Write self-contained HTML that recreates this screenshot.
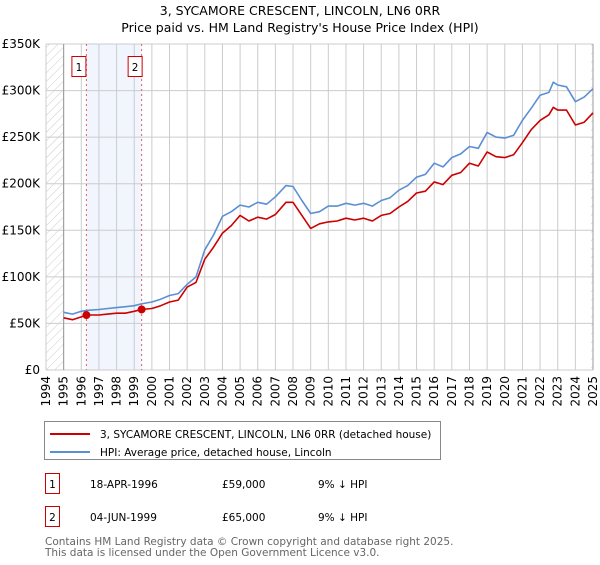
<!DOCTYPE html>
<html><head><meta charset="utf-8">
<style>
body{margin:0;background:#fff;font-family:"Liberation Sans","DejaVu Sans",sans-serif;}
svg text{font-family:"DejaVu Sans","Liberation Sans",sans-serif;}
</style></head>
<body>
<svg id="chart" width="600" height="560" viewBox="0 0 600 560">
<defs>
<pattern id="hatch" width="6" height="6" patternUnits="userSpaceOnUse" patternTransform="rotate(45)">
<line x1="0" y1="0" x2="0" y2="6" stroke="#ccc" stroke-width="1"/>
</pattern>
</defs>
<text x="300" y="15" text-anchor="middle" font-size="12.5" fill="#000">3, SYCAMORE CRESCENT, LINCOLN, LN6 0RR</text>
<text x="300" y="32" text-anchor="middle" font-size="12.5" fill="#000">Price paid vs. HM Land Registry's House Price Index (HPI)</text>
<g id="plot"></g>
<g>
<rect x="44.5" y="421.5" width="396" height="38" fill="#fff" stroke="#888"/>
<line x1="50" y1="434" x2="90" y2="434" stroke="#cc0000" stroke-width="2"/>
<text x="100" y="438" font-size="10.5">3, SYCAMORE CRESCENT, LINCOLN, LN6 0RR (detached house)</text>
<line x1="50" y1="452" x2="90" y2="452" stroke="#5b8fd4" stroke-width="2"/>
<text x="100" y="456" font-size="10.5">HPI: Average price, detached house, Lincoln</text>
</g>
<g font-size="10.5">
<rect x="45.5" y="473.5" width="14" height="20" fill="#fff" stroke="#cc0000"/>
<text x="52.5" y="488" text-anchor="middle">1</text>
<text x="90" y="488">18-APR-1996</text>
<text x="222" y="488">£59,000</text>
<text x="318" y="488">9% ↓ HPI</text>
<rect x="45.5" y="506.5" width="14" height="20" fill="#fff" stroke="#cc0000"/>
<text x="52.5" y="521" text-anchor="middle">2</text>
<text x="90" y="521">04-JUN-1999</text>
<text x="222" y="521">£65,000</text>
<text x="318" y="521">9% ↓ HPI</text>
</g>
<text x="45" y="545" font-size="10.5" fill="#666">Contains HM Land Registry data © Crown copyright and database right 2025.</text>
<text x="45" y="556" font-size="10.5" fill="#666">This data is licensed under the Open Government Licence v3.0.</text>
</svg>
<script>
const hpiYears = [1995,1995.5,1996,1996.3,1997,1997.5,1998,1998.5,1999,1999.4,2000,2000.5,2001,2001.5,2002,2002.5,2003,2003.5,2004,2004.5,2005,2005.5,2006,2006.5,2007,2007.6,2008,2008.5,2009,2009.5,2010,2010.5,2011,2011.5,2012,2012.5,2013,2013.5,2014,2014.5,2015,2015.5,2016,2016.5,2017,2017.5,2018,2018.5,2019,2019.5,2020,2020.5,2021,2021.5,2022,2022.5,2022.75,2023,2023.5,2024,2024.5,2025];
const hpiValues = [62,60,63,64,65,66,67,68,69,71,73,76,80,82,92,100,129,145,165,170,177,175,180,178,186,198,197,182,168,170,176,176,179,177,179,176,182,185,193,198,207,210,222,218,228,232,240,238,255,250,249,252,268,281,295,298,309,306,304,288,293,302];
const priceValues = [56,54,57,59,59,60,61,61,63,65,66,69,73,75,89,94,119,132,147,155,166,160,164,162,167,180,180,166,152,157,159,160,163,161,163,160,166,168,175,181,190,192,202,199,209,212,222,219,234,229,228,231,244,258,268,274,282,279,279,263,266,276];
const saleYears = [1996.29,1999.42];
const saleValues = [59,65];
const yTicks = [0,50,100,150,200,250,300,350];
const yTickLabels = ["£0","£50K","£100K","£150K","£200K","£250K","£300K","£350K"];
const xTicks = [1994,1995,1996,1997,1998,1999,2000,2001,2002,2003,2004,2005,2006,2007,2008,2009,2010,2011,2012,2013,2014,2015,2016,2017,2018,2019,2020,2021,2022,2023,2024,2025];

const X0=46,X1=593,Y0=370,Y1=44;
const xs = y => X0 + (y-1994)/(2025-1994)*(X1-X0);
const ys = v => Y0 - v/350*(Y0-Y1);
const NS="http://www.w3.org/2000/svg";
const plot=document.getElementById('plot');
function mk(tag,attrs,parent){const e=document.createElementNS(NS,tag);for(const k in attrs)e.setAttribute(k,attrs[k]);(parent||plot).appendChild(e);return e;}

let r=mk('rect',{x:X0,y:Y1,width:xs(1995)-X0,height:Y0-Y1,fill:'url(#hatch)'});


r=mk('rect',{x:xs(2025)-2,y:Y1,width:2,height:Y0-Y1,fill:'url(#hatch)'});


r=mk('rect',{x:xs(saleYears[0]),y:Y1,width:xs(saleYears[1])-xs(saleYears[0]),height:Y0-Y1,fill:'#eef3fc',opacity:0.8});



xTicks.forEach((t,i)=>{
  const l=mk('line',{x1:xs(t),x2:xs(t),y1:Y1,y2:Y0,stroke:'#ccc','stroke-width':1});
  
  
  const x=xs(t);
  const tx=mk('text',{x:0,y:0,'font-size':12,'text-anchor':'end',transform:`translate(${x+4},${Y0+6}) rotate(-90)`});
  tx.textContent=t;
  
  
});
yTicks.forEach((t,i)=>{
  const l=mk('line',{x1:X0,x2:X1,y1:ys(t),y2:ys(t),stroke:'#ccc','stroke-width':1});
  
  
  const tx=mk('text',{x:X0-6,y:ys(t)+4,'font-size':12,'text-anchor':'end'});
  tx.textContent=yTickLabels[i];
  
  
});
let ax=mk('line',{x1:xs(1995),x2:xs(1995),y1:Y1,y2:Y0,stroke:'#999','stroke-width':1});


ax=mk('line',{x1:xs(2025),x2:xs(2025),y1:Y1,y2:Y0,stroke:'#999','stroke-width':1});



saleYears.forEach((y,i)=>{
  const l=mk('line',{x1:xs(y),x2:xs(y),y1:Y1,y2:Y0,stroke:'#e06060','stroke-width':1,'stroke-dasharray':'2,3'});
  
  
});

function path(vals,color,name){
  const d=hpiYears.map((y,i)=>(i?'L':'M')+xs(y).toFixed(1)+','+ys(vals[i]).toFixed(1)).join(' ');
  const p=mk('path',{d:d,fill:'none',stroke:color,'stroke-width':1.6,'stroke-linejoin':'round'});
  
  
}
path(hpiValues,'#5b8fd4','hpi-line');
path(priceValues,'#cc0000','property-price-line');

saleYears.forEach((y,i)=>{
  const c=mk('circle',{cx:xs(y),cy:ys(saleValues[i]),r:4,fill:'#cc0000'});
  
  
  const bx=xs(y)-(i==0?15:14);
  const b=mk('rect',{x:bx+0.5,y:56.5,width:14,height:20,fill:'#fff',stroke:'#cc0000'});
  
  
  const t=mk('text',{x:bx+7.5,y:71,'font-size':10.5,'text-anchor':'middle'});
  t.textContent=String(i+1);
  
  
});
</script>
</body></html>
